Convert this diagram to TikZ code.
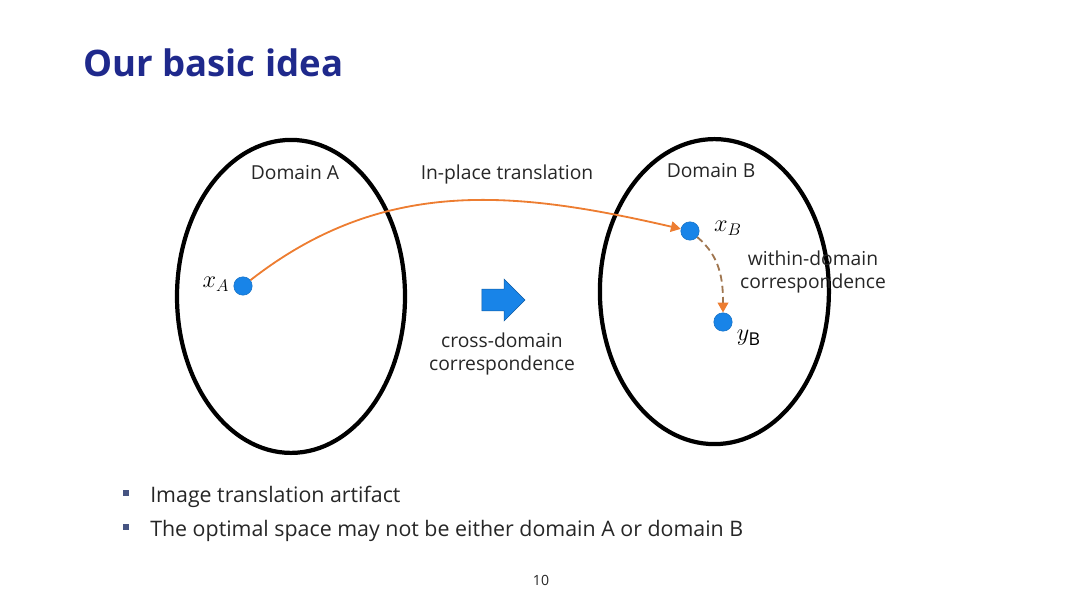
\documentclass[tikz,border=0pt]{standalone}
\usepackage{fontspec}
\setmainfont{Open Sans}
\usetikzlibrary{positioning}
\usetikzlibrary{arrows.meta,shapes.geometric,shapes.arrows}

\definecolor{titleblue}{RGB}{31,41,140}
\definecolor{dotblue}{RGB}{24,132,232}
\definecolor{transorange}{RGB}{237,125,49}
\definecolor{dashbrown}{RGB}{160,118,80}
\definecolor{bulletgray}{RGB}{70,84,130}

\begin{document}
\begin{tikzpicture}
\tikzstyle{domainshape}=[ellipse,draw=black,line width=3pt,inner sep=0pt]
\tikzstyle{sample}=[circle,fill=dotblue,draw=dotblue!85!black,line width=0.4pt,inner sep=0pt,minimum size=0.46cm]
\tikzstyle{domaintext}=[font=\fontsize{13.7}{16.3}\selectfont,align=center,text=black!85]
\tikzstyle{mathtext}=[font=\fontsize{18}{21}\selectfont,inner sep=0pt]
\tikzstyle{bulletbox}=[fill=bulletgray,minimum size=0.15cm,inner sep=0pt]
\tikzstyle{bullettext}=[anchor=base west,font=\fontsize{15.2}{18}\selectfont,text=black!85,inner sep=0pt]

\useasboundingbox (0,0) rectangle (27,15.2);

% \draw[help lines] (0,0) grid (27,15);

\node[anchor=west,inner sep=0pt,text=titleblue,font=\fontsize{26}{30}\selectfont\bfseries] (title) at (2.075,13.625) {Our basic idea};

% the two domains
\node[domainshape,minimum width=5.7cm,minimum height=7.825cm] (domA) at (7.275,7.79) {};
\node[domainshape,minimum width=5.725cm,minimum height=7.625cm] (domB) at (17.86,7.91) {};

\node[domaintext] (domAtext) at (7.375,10.875) {Domain A};
\node[domaintext] (domBtext) at (17.775,10.925) {Domain B};
\node[domaintext] (transText) at (12.675,10.85) {In-place translation};

% samples
\node[sample] (xA) at (6.075,8.05) {};
\node[sample] (xB) at (17.25,9.425) {};
\node[sample] (yB) at (18.075,7.15) {};

\node[mathtext] (xAtext) at (5.4,8.1) {$x_A$};
\node[mathtext] (xBtext) at (18.2,9.5) {$x_B$};
\node[mathtext] (yBtext) at (18.72,6.75) {$y_\mathrm{B}$};

\node[domaintext] (withinText) at (20.325,8.4) {within-domain\\correspondence};

% cross-domain arrow
\node[single arrow,fill=dotblue,draw=dotblue!70!black,line width=0.4pt,inner sep=0.265cm,
      minimum height=1.08cm,single arrow head extend=0.25cm] (crossArrow) at (12.45,7.7) {};
\node[domaintext] (crossText) at (12.55,6.35) {cross-domain\\correspondence};

\draw[transorange,line width=1.3pt,-{Triangle[length=7pt,width=7.5pt]}] (xA) to[out=38,in=167] (xB);
\draw[dashbrown,line width=1.3pt,dash pattern=on 5pt off 3pt,-{Triangle[length=7pt,width=7.5pt,color=transorange]}] (xB) to[out=-40,in=90] (yB);

% bullets
\node[bulletbox] (bul1) at (3.15,2.875) {};
\node[bulletbox] (bul2) at (3.15,2.025) {};
\node[bullettext] (item1) at (3.75,2.63) {Image translation artifact};
\node[bullettext] (item2) at (3.75,1.8) {The optimal space may not be either domain A or domain B};

\node[font=\fontsize{10}{12}\selectfont,text=black!85] (pageNum) at (13.525,0.7) {10};
\end{tikzpicture}
\end{document}
